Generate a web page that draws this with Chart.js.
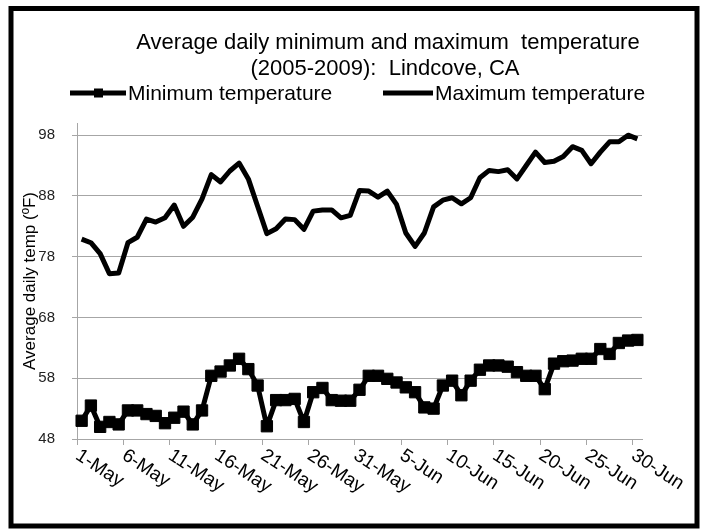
<!DOCTYPE html>
<html><head><meta charset="utf-8">
<script src="https://cdn.jsdelivr.net/npm/chart.js@4.4.0/dist/chart.umd.min.js"></script>
<style>html,body{margin:0;padding:0;background:#fff;}#wrap{width:707px;height:532px;}</style>
</head><body><div id="wrap"><canvas id="c" width="707" height="532"></canvas></div>
<script>
const categories = [
 '1-May','2-May','3-May','4-May','5-May','6-May','7-May','8-May','9-May','10-May',
 '11-May','12-May','13-May','14-May','15-May','16-May','17-May','18-May','19-May','20-May',
 '21-May','22-May','23-May','24-May','25-May','26-May','27-May','28-May','29-May','30-May','31-May',
 '1-Jun','2-Jun','3-Jun','4-Jun','5-Jun','6-Jun','7-Jun','8-Jun','9-Jun','10-Jun',
 '11-Jun','12-Jun','13-Jun','14-Jun','15-Jun','16-Jun','17-Jun','18-Jun','19-Jun','20-Jun',
 '21-Jun','22-Jun','23-Jun','24-Jun','25-Jun','26-Jun','27-Jun','28-Jun','29-Jun','30-Jun'];
const minTemp = [51.0,53.5,50.0,50.8,50.4,52.7,52.7,52.1,51.8,50.6,51.5,52.5,50.4,52.7,58.4,59.1,60.1,61.2,59.5,56.8,
 50.1,54.4,54.4,54.6,50.8,55.7,56.4,54.4,54.3,54.3,56.1,58.4,58.4,57.9,57.3,56.5,55.7,53.2,53.0,56.8,
 57.6,55.2,57.6,59.4,60.1,60.1,59.9,59.0,58.4,58.4,56.2,60.4,60.8,60.9,61.2,61.2,62.8,62.0,63.8,64.2,64.3];
const maxTemp = [80.9,80.3,78.5,75.2,75.3,80.3,81.2,84.2,83.7,84.4,86.5,83.0,84.5,87.5,91.5,90.3,92.1,93.4,90.8,86.3,
 81.8,82.6,84.2,84.1,82.5,85.5,85.7,85.7,84.4,84.8,88.9,88.8,87.8,88.8,86.6,81.9,79.7,81.9,86.2,87.3,
 87.7,86.7,87.7,91.0,92.2,92.0,92.3,90.8,93.0,95.2,93.5,93.7,94.5,96.1,95.5,93.3,95.2,96.9,96.9,98.0,97.4];
const yTicks = [48,58,68,78,88,98];
const xTickLabels = ['1-May','6-May','11-May','16-May','21-May','26-May','31-May','5-Jun','10-Jun','15-Jun','20-Jun','25-Jun','30-Jun'];
const titleLines = ['Average daily minimum and maximum  temperature','(2005-2009):  Lindcove, CA'];
const seriesNames = ['Minimum temperature','Maximum temperature'];
const yTitle = 'Average daily temp (\u00baF)';

const FONT = '"Liberation Sans", Arial, sans-serif';
const GRID = '#a6a6a6';

const decor = {
  id: 'decor',
  afterDraw(chart) {
    const ctx = chart.ctx;
    ctx.save();
    ctx.strokeStyle = '#000'; ctx.lineWidth = 5;
    ctx.strokeRect(11, 8.5, 686, 517.5);
    ctx.fillStyle = '#000'; ctx.textAlign = 'center'; ctx.textBaseline = 'middle';
    ctx.font = '22px ' + FONT;
    ctx.fillText(titleLines[0], 388, 43);
    ctx.fillText(titleLines[1], 385, 69);
    ctx.font = '21px ' + FONT; ctx.textAlign = 'left';
    const ly = 93;
    ctx.lineWidth = 5; ctx.beginPath(); ctx.moveTo(70, ly); ctx.lineTo(126, ly); ctx.stroke();
    ctx.fillRect(94, ly - 4.5, 9, 9);
    ctx.fillText(seriesNames[0], 128, ly + 1);
    ctx.beginPath(); ctx.moveTo(383, ly); ctx.lineTo(433, ly); ctx.stroke();
    ctx.fillText(seriesNames[1], 435, ly + 1);
    const xs = chart.scales.x;
    ctx.font = '19px ' + FONT; ctx.textBaseline = 'top';
    categories.forEach((lab, i) => {
      if (!xTickLabels.includes(lab)) return;
      const x = xs.getPixelForValue(i);
      ctx.save(); ctx.translate(x + 1, 446); ctx.rotate(33 * Math.PI / 180);
      ctx.fillText(lab, 0, 0); ctx.restore();
    });
    ctx.restore();
  }
};

new Chart(document.getElementById('c'), {
  type: 'line',
  data: {
    labels: categories,
    datasets: [
      { label: seriesNames[0], data: minTemp, borderColor: '#000', backgroundColor: '#000', borderWidth: 5,
        pointStyle: 'rect', pointRadius: 8, pointBackgroundColor: '#000', pointBorderColor: '#000', pointBorderWidth: 1,
        tension: 0, borderJoinStyle: 'round' },
      { label: seriesNames[1], data: maxTemp, borderColor: '#000', backgroundColor: '#000', borderWidth: 5,
        pointRadius: 0, tension: 0, borderJoinStyle: 'round' }
    ]
  },
  options: {
    responsive: false, animation: false, devicePixelRatio: 1,
    layout: { padding: { left: 12, right: 65, top: 123, bottom: 73 } },
    plugins: { legend: { display: false }, title: { display: false }, tooltip: { enabled: false } },
    scales: {
      x: {
        type: 'category', offset: true,
        grid: { offset: true, drawOnChartArea: false, drawTicks: true, tickLength: 6,
                color: c => (c.index !== undefined && c.index % 5 === 0) ? GRID : 'rgba(0,0,0,0)' },
        border: { color: GRID, width: 1 },
        ticks: { display: false, autoSkip: false },
        afterFit: s => { s.height = 20; }
      },
      y: {
        type: 'linear', min: 48, max: 100,
        afterBuildTicks: s => { s.ticks = yTicks.map(v => ({ value: v })); },
        grid: { color: GRID, lineWidth: 1, tickLength: 5 },
        border: { color: GRID, width: 1 },
        ticks: { font: { family: FONT, size: 15 }, color: '#222', padding: 17 },
        title: { display: true, text: yTitle, font: { family: FONT, size: 17 }, color: '#000', padding: { top: 8, bottom: 0 } },
        afterFit: s => { s.width = 65; }
      }
    }
  },
  plugins: [decor]
});
</script>
</body></html>
